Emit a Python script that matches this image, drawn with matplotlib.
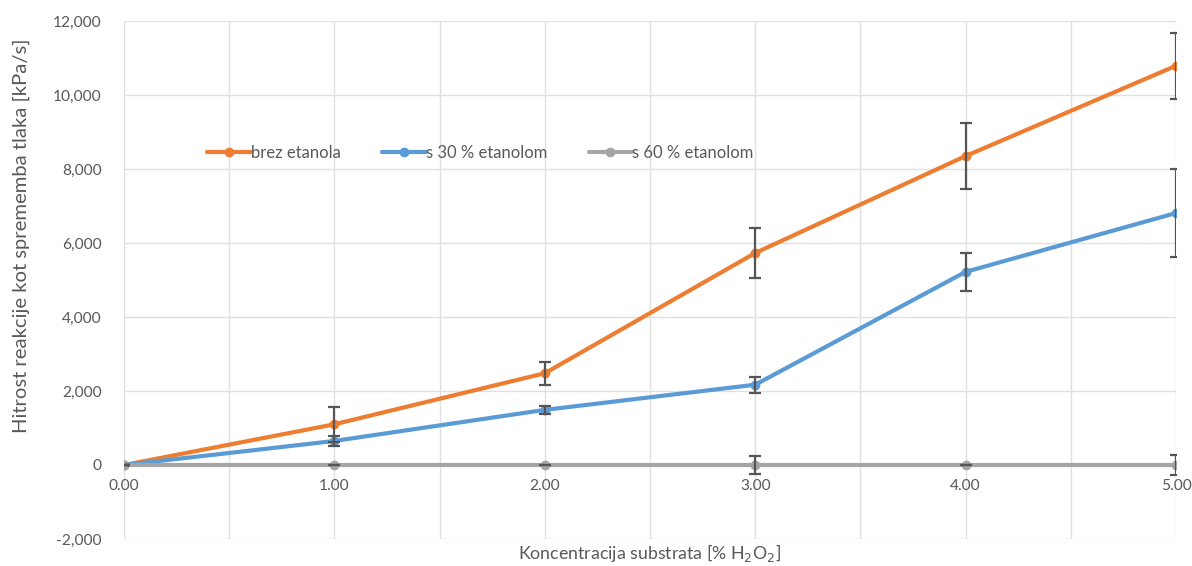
import matplotlib
matplotlib.use("Agg")
import matplotlib.pyplot as plt
from matplotlib.ticker import FuncFormatter, MultipleLocator

plt.rcParams['font.family'] = ['Lato', 'DejaVu Sans']

x = [0, 1, 2, 3, 4, 5]
brez = [0, 1100, 2480, 5730, 8350, 10790]
brez_err = [0, 470, 310, 670, 880, 890]
s30 = [0, 650, 1490, 2170, 5220, 6810]
s30_err = [0, 130, 110, 220, 520, 1200]
s60 = [0, 0, 0, 0, 0, 0]
s60_err = [0, 0, 0, 240, 0, 270]
labels = ['brez etanola', 's 30 % etanolom', 's 60 % etanolom']
colors = ['#ED7D31', '#5B9BD5', '#A5A5A5']

fig = plt.figure(figsize=(11.92, 5.66), dpi=100)
ax = fig.add_axes([124/1192, 1-539/566, (1176-124)/1192, (539-21)/566])

series = [(brez, brez_err), (s30, s30_err), (s60, s60_err)]
for (vals, err), lab, c in zip(series, labels, colors):
    ax.plot(x, vals, color=c, lw=3, marker='o', ms=6, label=lab, zorder=3,
            solid_capstyle='round')
for (vals, err), c in zip(series, colors):
    eb = ax.errorbar(x, vals, yerr=err, fmt='none', ecolor='#555555', elinewidth=1.6,
                     capsize=4.5, capthick=1.6, zorder=4)
    for cap in eb[1]:
        cap.set_clip_on(True)
        cap.set_clip_box(ax.bbox)

ax.set_xlim(0, 5)
ax.set_ylim(-2000, 12000)
ax.xaxis.set_major_locator(MultipleLocator(1))
ax.xaxis.set_minor_locator(MultipleLocator(0.5))
ax.yaxis.set_major_locator(MultipleLocator(2000))
ax.grid(True, which='both', axis='x', color='#E0E0E0', lw=1)
ax.grid(True, which='major', axis='y', color='#E0E0E0', lw=1)
ax.set_axisbelow(True)

for s in ['top', 'right', 'left']:
    ax.spines[s].set_visible(False)
ax.spines['bottom'].set_position(('data', 0))
ax.spines['bottom'].set_color('#BFBFBF')
ax.tick_params(axis='both', which='both', length=0, colors='#595959', labelsize=11.2)
ax.tick_params(axis='x', pad=10)
ax.tick_params(axis='y', pad=16)
ax.xaxis.set_major_formatter(FuncFormatter(lambda v, p: f"{v:.2f}"))
ax.yaxis.set_major_formatter(FuncFormatter(lambda v, p: f"{int(v):,}"))

fig.text(650/1192, 1-553/566, 'Koncentracija substrata [% H$_2$O$_2$]', ha='center', va='center',
         color='#595959', fontsize=12.8)
fig.text(21/1192, 1-236/566, 'Hitrost reakcije kot sprememba tlaka [kPa/s]', ha='center', va='center',
         rotation=90, color='#595959', fontsize=14.6)

leg = ax.legend(loc='center left', bbox_to_anchor=(0.065, 0.745), ncol=3, frameon=False,
                fontsize=12.0, handlelength=2.6, handletextpad=0.0, columnspacing=2.5,
                labelcolor='#595959')

fig.savefig('out.png', dpi=100)
